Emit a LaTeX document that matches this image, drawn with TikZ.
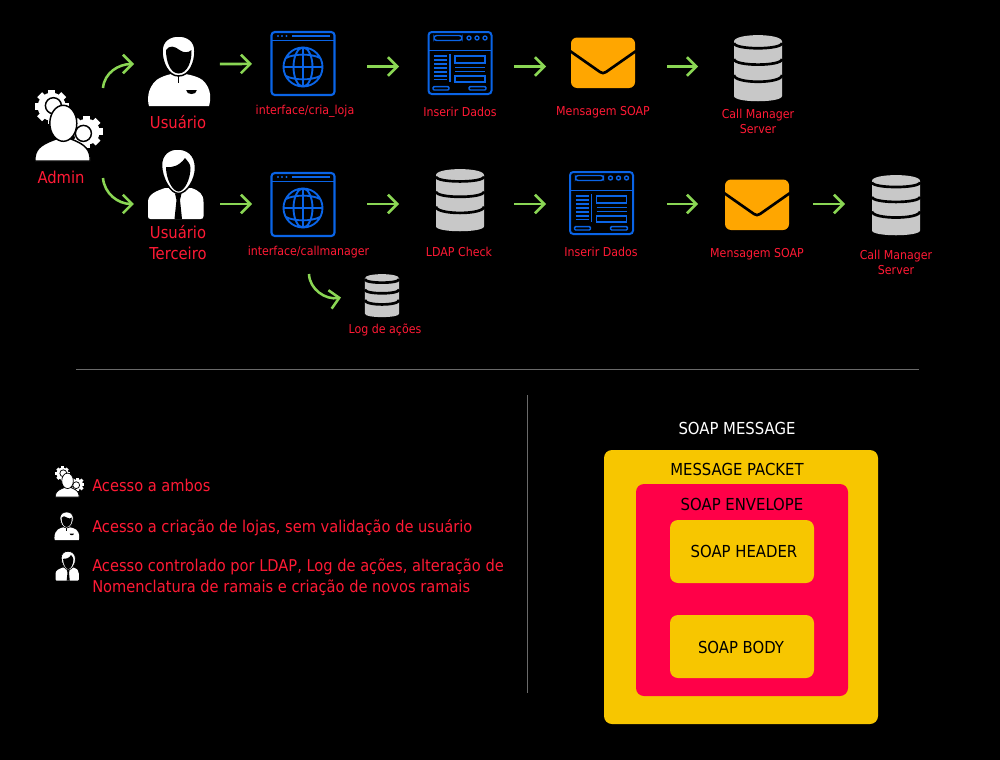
\documentclass[tikz,border=0pt]{standalone}
\usepackage{fontspec}
\setmainfont{DejaVu Sans Condensed}
\usetikzlibrary{arrows.meta}
\definecolor{webblue}{HTML}{0A64E6}
\definecolor{mailorange}{HTML}{FFA600}
\definecolor{dbgray}{HTML}{C8C8C8}
\definecolor{flowgreen}{HTML}{8AD654}
\definecolor{textred}{HTML}{FF1A35}
\definecolor{packetyellow}{HTML}{F7C600}
\definecolor{envelopered}{HTML}{FF0048}
\definecolor{rulegray}{HTML}{6A6A6A}
\tikzset{
  iconline/.style={line width=1.1pt},
  usericon/.pic={
    \fill[white] (-30.5,35) .. controls (-32,30) and (-33,18) .. (-23,9) .. controls (-19,6) and (-13,4) .. (-8,3)
      -- (6,3) .. controls (12,4) and (19,6) .. (23,9) .. controls (33,18) and (31,30) .. (29.5,35) -- cycle;
    \path[fill=white, draw=black, iconline] (-17.5,-20) .. controls (-17.5,-30) and (-10,-35) .. (-1,-35)
      .. controls (8,-35) and (15.5,-30) .. (15.5,-20) .. controls (15.5,-8) and (10,5) .. (-1,5)
      .. controls (-11,5) and (-17.5,-8) .. cycle;
    \fill[black] (-13.5,-21) .. controls (-10,-26) and (-5,-25) .. (0,-21) .. controls (4,-18) and (9,-18) .. (12,-21)
      .. controls (12.5,-10) and (8,2.5) .. (-1,2.5) .. controls (-9,2.5) and (-13.5,-9) .. cycle;
    \draw[black, iconline] (-1,5) -- (-1,12);
    \fill[black] (6.7,19) -- (17.3,19) .. controls (17,22) and (15,23) .. (12,23) .. controls (9,23) and (7,22) .. cycle;
  },
  thirdicon/.pic={
    \fill[white] (-26,35) .. controls (-28,35) and (-28.5,34) .. (-28.5,32) -- (-28.5,18) .. controls (-28.5,10) and (-20,7) .. (-11.5,4)
      -- (15,4) .. controls (23,7) and (27,10) .. (27,18) -- (27,32) .. controls (27,34) and (26,35) .. (24,35) -- cycle;
    \path[fill=white, draw=black, iconline] (-15,-19) .. controls (-15,-30) and (-7,-35) .. (1,-35)
      .. controls (10,-35) and (19,-30) .. (19,-16) .. controls (19,-4) and (10,9.5) .. (2,9.5)
      .. controls (-6,9.5) and (-15,-6) .. cycle;
    \fill[black] (-10.5,-17) .. controls (-5,-16) and (3,-18) .. (8.5,-26) .. controls (11,-23) and (14,-20) .. (14,-16)
      .. controls (14,-5) and (8,7.5) .. (2,7.5) .. controls (-4,7.5) and (-10.5,-5) .. cycle;
    \fill[black] (-1.5,9.5) -- (5,9.5) -- (3.5,16) -- (5.5,35) -- (-2,35) -- (0,16) -- cycle;
  },
  adminicon/.pic={
    \foreach \gx/\gy/\gr/\rx/\ry in {-17.3/-26.3/17/-15.6/-27.3, 17.7/-1.3/16/14.4/0.4} {
      \foreach \ang in {0,45,...,315} {
        \fill[white, rotate around={\ang:(\gx,\gy)}] (\gx-3.5,\gy-\gr) rectangle (\gx+3.5,\gy);
      }
      \fill[white] (\gx,\gy) circle[radius=\gr-3];
      \draw[black, iconline] (\rx,\ry) circle[radius=8];
    }
    \path[fill=white, draw=black, iconline] (-34,28) -- (-34,24) .. controls (-33,14) and (-24,10) .. (-13,6)
      -- (2,6) .. controls (12,10) and (20,14) .. (21,24) -- (21,28) -- cycle;
    \path[fill=white, draw=black, iconline] (-5.7,-9.7) ellipse[x radius=13.5, y radius=18];
  },
  webicon/.pic={
    \draw[webblue, line width=1.6pt, rounded corners=2.5pt] (-31.5,-32) rectangle (31.5,31);
    \draw[webblue, line width=1.3pt] (-31.5,-23.5) -- (31.5,-23.5);
    \fill[webblue] (-25,-28) circle[radius=1.1] (-21,-28) circle[radius=1.1] (-16.5,-28) circle[radius=1.1];
    \draw[webblue, line width=1.1pt] (-11,-28) -- (27,-28);
    \draw[webblue, line width=1.4pt] (0,3) circle[radius=19.5] (0,3) ellipse[x radius=9.5, y radius=19.5]
      (0,-16.5) -- (0,22.5) (-19.5,3) -- (19.5,3)
      (-17,-6) .. controls (-9,-10.5) and (9,-10.5) .. (17,-6)
      (-17,12) .. controls (-9,16.5) and (9,16.5) .. (17,12);
  },
  formicon/.pic={
    \draw[webblue, line width=1.5pt, rounded corners=2.5pt] (-31.5,-32) rectangle (31.5,30);
    \draw[webblue, line width=1.4pt] (-31.5,-13.5) -- (31.5,-13.5);
    \draw[webblue, line width=1.1pt, rounded corners=2pt] (-26,-28.5) rectangle (2,-23.5);
    \draw[webblue, line width=1pt] (9,-26) circle[radius=2] (17,-26) circle[radius=2] (25,-26) circle[radius=2];
    \draw[webblue, line width=1.4pt] (-10,-10) -- (-10,18);
    \draw[webblue, line width=1.1pt] (-26,-8) -- (-13,-8) (-26,-4) -- (-13,-4) (-26,0) -- (-13,0) (-26,4) -- (-13,4)
      (-26,8) -- (-13,8) (-26,12) -- (-13,12) (-26,15.5) -- (-13,15.5)
      (-5,3.7) -- (25,3.7) (-5,7.7) -- (25,7.7);
    \draw[webblue, line width=1.2pt] (-5,-8) rectangle (25,-1) (-5,12) rectangle (25,17.7);
    \draw[webblue, line width=1.1pt, rounded corners=0.8pt] (-27,22.7) rectangle (-11,26) (9,22.7) rectangle (26,26);
  },
  mailicon/.pic={
    \fill[mailorange, rounded corners=4.5pt] (-32,-26.5) rectangle (32,24);
    \draw[black, line width=2pt, line join=round] (-33,-13) -- (-3,8) .. controls (-1,9.5) and (1,9.5) .. (3,8) -- (33,-13);
  },
  dbicon/.pic={
    \fill[dbgray] (-24,-26.5) .. controls (-24,-35) and (24,-35) .. (24,-26.5) -- (24,28)
      .. controls (24,35) and (-24,35) .. (-24,28) -- cycle;
    \draw[black, line width=2pt] (-24,-25) .. controls (-24,-18) and (24,-18) .. (24,-25)
      (-24,-9) .. controls (-24,-1.5) and (24,-1.5) .. (24,-9)
      (-24,7) .. controls (-24,16) and (24,16) .. (24,7);
  }
}
\begin{document}
\begin{tikzpicture}[
  x=0.75pt, y=-0.75pt,
  iconnode/.style={inner sep=0, outer sep=0},
  flow/.style={-{Straight Barb[length=7pt,width=14pt]}, flowgreen, line width=1.9pt},
  lbl/.style={text=textred, font=\fontsize{9.2}{11.2}\selectfont, align=center, inner sep=0},
  biglbl/.style={text=textred, font=\fontsize{12.3}{15.4}\selectfont, align=center, inner sep=0},
  legend/.style={text=textred, font=\fontsize{12.2}{15.6}\selectfont, align=left, anchor=west, inner sep=0},
  soaplbl/.style={text=black, font=\fontsize{12.4}{15}\selectfont, inner sep=0},
  soapbox/.style={inner sep=0, outer sep=0, rounded corners=6pt},
  rulerline/.style={rulegray, line width=0.75pt}
]
\fill[black] (0,0) rectangle (1000,760);
\useasboundingbox (0,0) rectangle (1000,760);

\node[iconnode, minimum width=51pt, minimum height=67.5pt] (admin) at (69,133) {};
\node[iconnode, minimum width=47.2pt, minimum height=48pt] (user1) at (179.5,64) {};
\node[iconnode, minimum width=48pt, minimum height=48pt] (web1) at (303,66.5) {};
\node[iconnode, minimum width=48pt, minimum height=48pt] (form1) at (460,66.5) {};
\node[iconnode, minimum width=48pt, minimum height=48pt] (mail1) at (603,66.5) {};
\node[iconnode, minimum width=36pt, minimum height=48pt] (call1) at (758,66.5) {};

\node[iconnode, minimum width=42.8pt, minimum height=48pt] (user2) at (176.5,204) {};
\node[iconnode, minimum width=48pt, minimum height=48pt] (web2) at (303,204) {};
\node[iconnode, minimum width=36pt, minimum height=48pt] (ldap) at (460,204) {};
\node[iconnode, minimum width=47.2pt, minimum height=48pt] (form2) at (601.5,204) {};
\node[iconnode, minimum width=48pt, minimum height=48pt] (mail2) at (757,204) {};
\node[iconnode, minimum width=36pt, minimum height=48pt] (call2) at (896,204) {};
\node[iconnode, minimum width=25.5pt, minimum height=32pt] (logdb) at (382,297.5) {};
\coordinate (logstart) at (309,274);

\pic at (69,133) {adminicon};
\pic at (179.5,71) {usericon};
\pic at (303,64) {webicon};
\pic at (460,64) {formicon};
\pic at (603,64) {mailicon};
\pic at (758,68) {dbicon};
\pic at (176.5,184) {thirdicon};
\pic at (303,205) {webicon};
\pic[yscale=0.94] at (460,200) {dbicon};
\pic at (601.5,204) {formicon};
\pic at (757,206) {mailicon};
\pic[yscale=0.91] at (896,205) {dbicon};
\pic[xscale=0.71, yscale=0.65] at (382,295.5) {dbicon};

\draw[flow] (admin.north east) to[out=85, in=180] ([xshift=-10.5pt]user1.west);
\draw[flow] (admin.south east) to[out=-85, in=180] ([xshift=-10.5pt]user2.west);
\draw[flow, shorten <=6.75pt, shorten >=14.25pt] (user1.east) -- ([yshift=1.9pt]web1.west);
\draw[flow, shorten <=24pt, shorten >=21.75pt] (web1) -- (form1);
\draw[flow, shorten <=16.5pt, shorten >=18.75pt] (form1) -- (mail1);
\draw[flow, shorten <=24pt, shorten >=27pt] (mail1) -- (call1);
\draw[flow, shorten <=11.25pt, shorten >=14.25pt] (user2) -- (web2);
\draw[flow, shorten <=24pt, shorten >=27.75pt] (web2) -- (ldap);
\draw[flow, shorten <=22.5pt, shorten >=18pt] (ldap) -- (form2);
\draw[flow, shorten <=25.5pt, shorten >=20.25pt] (form2) -- (mail2);
\draw[flow, shorten <=18pt, shorten >=20.25pt] (mail2) -- (call2);
\draw[flow] (logstart) to[out=-88, in=190] ([xshift=-18pt]logdb.west);

\node[biglbl] (adminlbl) at (61,177) {Admin};
\node[biglbl] (user1lbl) at (178,122) {Usuário};
\node[biglbl] (user2lbl) at (178,242.5) {Usuário\\Terceiro};
\node[lbl] (web1lbl) at (305,111.5) {interface/cria\_loja};
\node[lbl] (form1lbl) at (460,111.5) {Inserir Dados};
\node[lbl] (mail1lbl) at (603,112) {Mensagem SOAP};
\node[lbl] (call1lbl) at (758,121) {Call Manager\\Server};
\node[lbl] (web2lbl) at (308.5,252) {interface/callmanager};
\node[lbl] (ldaplbl) at (459,251.5) {LDAP Check};
\node[lbl] (form2lbl) at (601,251.5) {Inserir Dados};
\node[lbl] (mail2lbl) at (757,254.5) {Mensagem SOAP};
\node[lbl] (call2lbl) at (896,262) {Call Manager\\Server};
\node[lbl] (loglbl) at (385,330) {Log de ações};

\coordinate (rulea) at (76,369.5);
\coordinate (ruleb) at (919,369.5);
\coordinate (rulec) at (527.5,395);
\coordinate (ruled) at (527.5,693);
\draw[rulerline] (rulea) -- (ruleb);
\draw[rulerline] (rulec) -- (ruled);

\pic[scale=0.43, iconline/.style={line width=0.55pt}] at (70,485) {adminicon};
\pic[scale=0.4, iconline/.style={line width=0.5pt}] at (67,526) {usericon};
\pic[scale=0.42, iconline/.style={line width=0.5pt}] at (67.5,566) {thirdicon};
\node[legend] (legenda) at (92,485) {Acesso a ambos};
\node[legend] (legendb) at (92,528) {Acesso a criação de lojas, sem validação de usuário};
\node[legend] (legendc) at (92,577) {Acesso controlado por LDAP, Log de ações, alteração de\\Nomenclatura de ramais e criação de novos ramais};

\node[text=white, font=\fontsize{12.4}{15}\selectfont, inner sep=0] (soapmsg) at (737,428) {SOAP MESSAGE};
\node[soapbox, fill=packetyellow, minimum width=205.5pt, minimum height=205.5pt] (packet) at (741,587) {};
\node[soapbox, fill=envelopered, minimum width=159pt, minimum height=159pt] (envelope) at (742,590) {};
\node[soapbox, fill=packetyellow, minimum width=108pt, minimum height=47.25pt] (header) at (742,551.5) {};
\node[soapbox, fill=packetyellow, minimum width=108pt, minimum height=47.25pt] (body) at (742,646.5) {};
\node[soaplbl] (packetlbl) at (737,469.5) {MESSAGE PACKET};
\node[soaplbl] (envelopelbl) at (742,504.5) {SOAP ENVELOPE};
\node[soaplbl] (headerlbl) at (744,551.5) {SOAP HEADER};
\node[soaplbl] (bodylbl) at (741,647.5) {SOAP BODY};
\end{tikzpicture}
\end{document}
